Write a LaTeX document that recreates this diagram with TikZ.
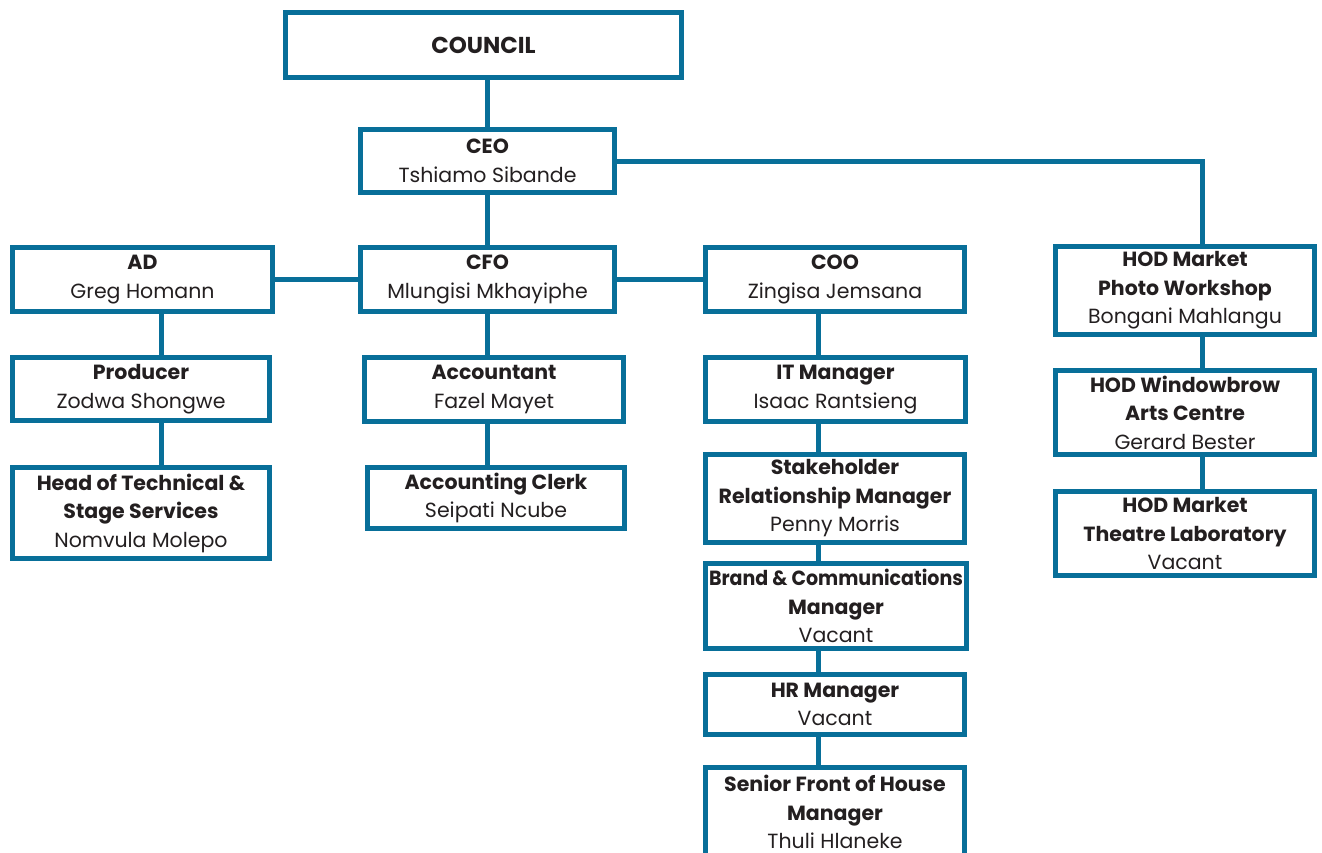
\documentclass[tikz,border=0pt]{standalone}
\usepackage{fontspec}
\usepackage{graphicx}
\setmainfont{Poppins}
\usetikzlibrary{calc}
\definecolor{mtblue}{RGB}{8,111,153}
\definecolor{ink}{RGB}{35,31,32}

\begin{document}
\begin{tikzpicture}[x=1pt,y=-1pt,
  post/.style={draw=mtblue,line width=5pt,fill=white,align=center,inner sep=0pt,text=ink,font=\fontsize{20.5}{28.5}\selectfont},
  link/.style={draw=mtblue,line width=5pt}]
\useasboundingbox (0,0) rectangle (1322,852);
% top
\node[post,minimum width=396,minimum height=65,font=\fontsize{23}{28}\selectfont] (council) at (483.5,45) {\textbf{COUNCIL}};
\node[post,minimum width=254,minimum height=63] (ceo) at (487.5,161) {\textbf{CEO}\\Tshiamo Sibande};
% second row
\node[post,minimum width=260,minimum height=64] (ad) at (142.5,279.5) {\textbf{AD}\\Greg Homann};
\node[post,minimum width=254,minimum height=64] (cfo) at (487.5,279.5) {\textbf{CFO}\\Mlungisi Mkhayiphe};
\node[post,minimum width=259,minimum height=64] (coo) at (835,279.5) {\textbf{COO}\\Zingisa Jemsana};
\node[post,minimum width=259,minimum height=88] (hodmpw) at (1185,290.5) {\textbf{HOD Market}\\\textbf{Photo Workshop}\\Bongani Mahlangu};
% AD branch
\node[post,minimum width=257,minimum height=63] (producer) at (141,389) {\textbf{Producer}\\Zodwa Shongwe};
\node[post,minimum width=257,minimum height=91] (headtech) at (141,513) {\textbf{Head of Technical \&}\\\textbf{Stage Services}\\Nomvula Molepo};
% CFO branch
\node[post,minimum width=259,minimum height=64] (accountant) at (494,389.5) {\textbf{Accountant}\\Fazel Mayet};
\node[post,minimum width=257,minimum height=61] (clerk) at (496,498) {\textbf{Accounting Clerk}\\Seipati Ncube};
% COO branch
\node[post,minimum width=260,minimum height=64] (itman) at (835.5,389.5) {\textbf{IT Manager}\\Isaac Rantsieng};
\node[post,minimum width=259,minimum height=88] (stake) at (835,498.5) {\textbf{Stakeholder}\\\textbf{Relationship Manager}\\Penny Morris};
\node[post,minimum width=261,minimum height=85] (brand) at (836,606) {\resizebox{254pt}{\height}{\textbf{Brand \& Communications}}\\\textbf{Manager}\\Vacant};
\node[post,minimum width=259,minimum height=60] (hr) at (835,704.5) {\textbf{HR Manager}\\Vacant};
\node[post,minimum width=259,minimum height=90] (senior) at (835,812) {\textbf{Senior Front of House}\\\textbf{Manager}\\Thuli Hlaneke};
% HOD branch
\node[post,minimum width=259,minimum height=84] (hodwab) at (1185,412.5) {\textbf{HOD Windowbrow}\\\textbf{Arts Centre}\\Gerard Bester};
\node[post,minimum width=259,minimum height=84] (hodmtl) at (1185,533.5) {\textbf{HOD Market}\\\textbf{Theatre Laboratory}\\Vacant};
% spines
\coordinate (adline) at (161,0);
\coordinate (cooline) at (818,0);
\coordinate (hodline) at (1202,0);
% connectors
\draw[link] (ceo.north) -- (ceo.north |- council.south);
\draw[link] (ceo) -- (cfo);
\draw[link] (ceo.east) -| (hodline |- hodmpw.north);
\draw[link] (ad.east) -- (cfo.west);
\draw[link] (cfo.east) -- (coo.west);
\draw[link] (ad.south -| adline) -- (producer.north -| adline);
\draw[link] (producer.south -| adline) -- (headtech.north -| adline);
\draw[link] (cfo.south) -- (cfo.south |- accountant.north);
\draw[link] (cfo.south |- accountant.south) -- (cfo.south |- clerk.north);
\draw[link] (coo.south -| cooline) -- (itman.north -| cooline);
\draw[link] (itman.south -| cooline) -- (stake.north -| cooline);
\draw[link] (stake.south -| cooline) -- (brand.north -| cooline);
\draw[link] (brand.south -| cooline) -- (hr.north -| cooline);
\draw[link] (hr.south -| cooline) -- (senior.north -| cooline);
\draw[link] (hodmpw.south -| hodline) -- (hodwab.north -| hodline);
\draw[link] (hodwab.south -| hodline) -- (hodmtl.north -| hodline);
\end{tikzpicture}
\end{document}
